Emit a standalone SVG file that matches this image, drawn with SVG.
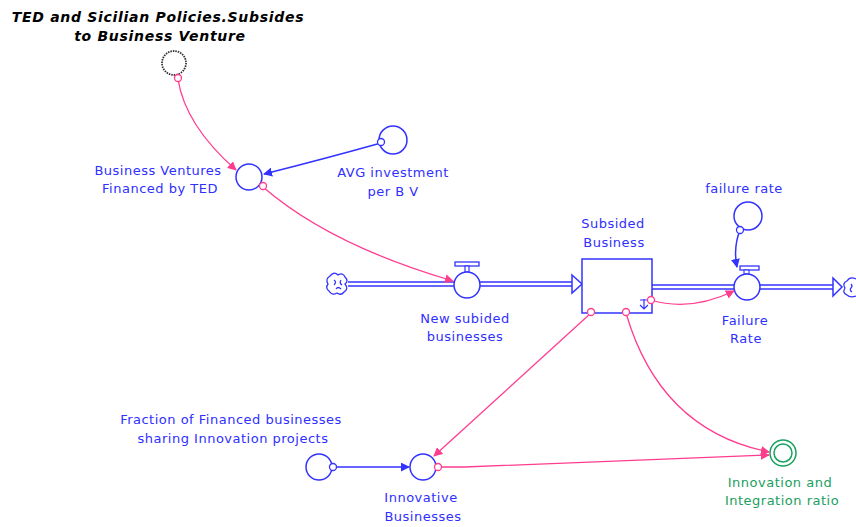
<svg xmlns="http://www.w3.org/2000/svg" width="856" height="527" viewBox="0 0 856 527">
  <defs>
    <style>
      .lbl { font-family: "DejaVu Sans", "Liberation Sans", sans-serif; font-size: 13px; letter-spacing: 0.5px; fill: #2f2fff; text-anchor: middle; }
      .lbl-g { font-family: "DejaVu Sans", "Liberation Sans", sans-serif; font-size: 13px; letter-spacing: 0.5px; fill: #1aa060; text-anchor: middle; }
      .title { font-family: "DejaVu Sans", "Liberation Sans", sans-serif; font-size: 14px; letter-spacing: 0.7px; font-weight: bold; font-style: italic; fill: #000; text-anchor: middle; }
      .aux { fill: #fff; stroke: #3333ff; stroke-width: 1.5; }
      .blue { fill: none; stroke: #3333ff; stroke-width: 1.5; }
      .pink { fill: none; stroke: #ff3d8f; stroke-width: 1.3; }
      .tailB { fill: #fff; stroke: #3333ff; stroke-width: 1.3; }
      .tailP { fill: #fff; stroke: #ff3d8f; stroke-width: 1.3; }
      .pipe { stroke: #3333ff; stroke-width: 1.5; fill: none; }
    </style>
    <marker id="arrB" viewBox="0 0 10 10" refX="9" refY="5" markerWidth="9" markerHeight="9" markerUnits="userSpaceOnUse" orient="auto">
      <path d="M0,0 L10,5 L0,10 z" fill="#3333ff"/>
    </marker>
    <marker id="arrP" viewBox="0 0 10 10" refX="9" refY="5" markerWidth="9" markerHeight="9" markerUnits="userSpaceOnUse" orient="auto">
      <path d="M0,0 L10,5 L0,10 z" fill="#ff3d8f"/>
    </marker>
  </defs>

  <rect width="856" height="527" fill="#fff"/>

  <!-- material flows (pipes, clouds, valves) -->
  <g id="flows">
    <!-- inflow pipe -->
    <line class="pipe" x1="348" y1="282" x2="573" y2="282"/>
    <line class="pipe" x1="348" y1="286" x2="573" y2="286"/>
    <path d="M572,275 L582,284 L572,293 z" fill="#fff" stroke="#3333ff" stroke-width="1.5"/>
    <!-- source cloud -->
    <path d="M330,276 q4,-5 8,-1 q5,-3 7,2 q4,4 0,7 q4,5 -1,8 q-3,4 -7,1 q-5,3 -8,-2 q-4,-3 -1,-7 q-3,-5 2,-8 z M334,280 q3,2 0,5 M341,280 q-2,3 1,5 M336,289 q2,-3 5,0" fill="#fff" stroke="#3333ff" stroke-width="1.3"/>
    <!-- outflow pipe -->
    <line class="pipe" x1="652" y1="285" x2="834" y2="285"/>
    <line class="pipe" x1="652" y1="289" x2="834" y2="289"/>
    <path d="M833,278 L842,287 L833,296 z" fill="#fff" stroke="#3333ff" stroke-width="1.5"/>
    <!-- sink cloud -->
    <path d="M856,279 q-6,-3 -9,2 q-5,2 -2,7 q-3,5 2,7 q3,3 9,1" fill="#fff" stroke="#3333ff" stroke-width="1.3"/>
    <path d="M851,284 q2,2 0,4 q-2,2 1,4" fill="none" stroke="#3333ff" stroke-width="1.2"/>
  </g>

  <!-- New subided businesses (inflow valve) -->
  <g id="new-subided-businesses">
    <rect x="455" y="262" width="24" height="4" fill="#fff" stroke="#3333ff" stroke-width="1.3"/>
    <rect x="465" y="266" width="4" height="6" fill="#fff" stroke="#3333ff" stroke-width="1.2"/>
    <circle class="aux" cx="467" cy="285" r="13"/>
    <text class="lbl" x="465" y="323">New subided</text>
    <text class="lbl" x="465" y="341">businesses</text>
  </g>

  <!-- Failure Rate (outflow valve) -->
  <g id="failure-rate-flow">
    <rect x="740" y="266" width="19" height="4" fill="#fff" stroke="#3333ff" stroke-width="1.3"/>
    <rect x="744" y="270" width="5" height="4" fill="#fff" stroke="#3333ff" stroke-width="1.1"/>
    <circle class="aux" cx="747" cy="287" r="13"/>
    <text class="lbl" x="745" y="325">Failure</text>
    <text class="lbl" x="746" y="343">Rate</text>
  </g>

  <!-- Subsided Business (stock) -->
  <g id="subsided-business">
    <rect x="582" y="259" width="70" height="54" fill="#fff" stroke="#3333ff" stroke-width="1.5"/>
    <path d="M644,299 v10 M640,305 l4,4 l4,-4 M640,300 h8" fill="none" stroke="#3333ff" stroke-width="1.2"/>
    <text class="lbl" x="613" y="228">Subsided</text>
    <text class="lbl" x="614" y="247">Business</text>
  </g>

  <!-- TED and Sicilian Policies.Subsides to Business Venture (ghost) -->
  <g id="ted-subsides">
    <circle cx="174" cy="63" r="12" fill="#fff" stroke="#333" stroke-width="1.8" stroke-dasharray="1.5 1"/>
    <text class="title" x="158" y="22">TED and Sicilian Policies.Subsides</text>
    <text class="title" x="160" y="41">to Business Venture</text>
  </g>

  <!-- Business Ventures Financed by TED -->
  <g id="business-ventures">
    <circle class="aux" cx="249" cy="177" r="13"/>
    <text class="lbl" x="158" y="175">Business Ventures</text>
    <text class="lbl" x="160" y="193">Financed by TED</text>
  </g>

  <!-- AVG investment per B V -->
  <g id="avg-investment">
    <circle class="aux" cx="393" cy="140" r="14"/>
    <text class="lbl" x="393" y="177">AVG investment</text>
    <text class="lbl" x="393" y="196">per B V</text>
  </g>

  <!-- failure rate -->
  <g id="failure-rate">
    <circle class="aux" cx="748" cy="216" r="14"/>
    <text class="lbl" x="744" y="193">failure rate</text>
  </g>

  <!-- Fraction of Financed businesses sharing Innovation projects -->
  <g id="fraction-sharing">
    <circle class="aux" cx="319" cy="467" r="13"/>
    <text class="lbl" x="231" y="424">Fraction of Financed businesses</text>
    <text class="lbl" x="233" y="443">sharing Innovation projects</text>
  </g>

  <!-- Innovative Businesses -->
  <g id="innovative-businesses">
    <circle class="aux" cx="423" cy="467" r="13"/>
    <text class="lbl" x="421" y="502">Innovative</text>
    <text class="lbl" x="423" y="521">Businesses</text>
  </g>

  <!-- Innovation and Integration ratio -->
  <g id="innovation-ratio">
    <circle cx="783" cy="453" r="13" fill="#fff" stroke="#1aa060" stroke-width="1.5"/>
    <circle cx="783" cy="453" r="9" fill="none" stroke="#1aa060" stroke-width="1.5"/>
    <text class="lbl-g" x="780" y="487">Innovation and</text>
    <text class="lbl-g" x="782" y="505">Integration ratio</text>
  </g>

  <!-- information connectors -->
  <g id="connectors">
    <path class="pink" d="M178,79 Q185,125 236,170" marker-end="url(#arrP)"/>
    <path class="blue" d="M381,143 Q320,160 264,174" marker-end="url(#arrB)"/>
    <path class="pink" d="M263,187 Q330,245 453,281" marker-end="url(#arrP)"/>
    <path class="pink" d="M651,300 Q690,312 734,291" marker-end="url(#arrP)"/>
    <path class="blue" d="M740,230 Q733,248 737,267" marker-end="url(#arrB)"/>
    <path class="pink" d="M591,313 L434,456" marker-end="url(#arrP)"/>
    <path class="pink" d="M626,313 Q660,430 769,452" marker-end="url(#arrP)"/>
    <path class="pink" d="M438,467 L465,467 L769,455" marker-end="url(#arrP)"/>
    <path class="blue" d="M333,467 L409,467" marker-end="url(#arrB)"/>

    <circle class="tailP" cx="178" cy="78" r="3.5"/>
    <circle class="tailB" cx="381" cy="142" r="3.5"/>
    <circle class="tailP" cx="263" cy="186" r="3.5"/>
    <circle class="tailP" cx="651" cy="300" r="3.5"/>
    <circle class="tailB" cx="740" cy="230" r="3.5"/>
    <circle class="tailP" cx="591" cy="312" r="3.5"/>
    <circle class="tailP" cx="626" cy="312" r="3.5"/>
    <circle class="tailP" cx="438" cy="467" r="3.5"/>
    <circle class="tailB" cx="333" cy="467" r="3.5"/>
  </g>
</svg>
